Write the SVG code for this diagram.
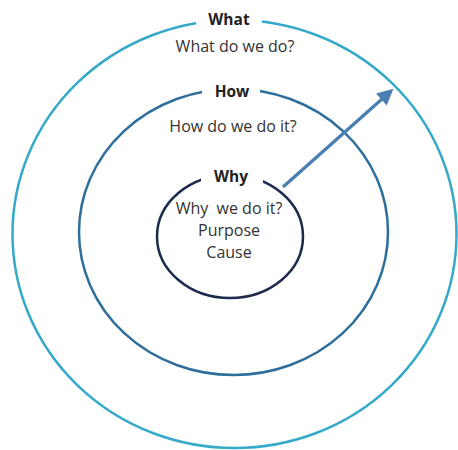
<svg xmlns="http://www.w3.org/2000/svg" width="458" height="450" viewBox="0 0 458 450">
<style>
.lbl{font-family:"Open Sans","Liberation Sans",sans-serif;font-weight:bold;font-size:15.5px;fill:#222;text-anchor:middle}
.txt{font-family:"Open Sans","Liberation Sans",sans-serif;font-size:16px;fill:#333;text-anchor:middle}
.gap{fill:#fff}
</style>
<defs>
<marker id="ah" viewBox="0 0 10 10" refX="8" refY="5" markerWidth="5.5" markerHeight="5" orient="auto" markerUnits="strokeWidth">
<path d="M0,0 L10,5 L0,10 z" fill="#4a7fb3"/>
</marker>
</defs>
<rect width="458" height="450" fill="#fff"/>
<g id="what">
<ellipse cx="234.5" cy="234" rx="222" ry="214" fill="none" stroke="#34a9c8" stroke-width="2.5"/>
<rect class="gap" x="196" y="10" width="66" height="22"/>
<text class="lbl" x="229" y="25">What</text>
<text class="txt" x="235" y="52">What do we do?</text>
</g>
<g id="how">
<ellipse cx="233.5" cy="232" rx="154.5" ry="143" fill="none" stroke="#2e6e9c" stroke-width="2.5"/>
<rect class="gap" x="202" y="80" width="58" height="22"/>
<text class="lbl" x="232" y="97">How</text>
<text class="txt" x="233" y="132">How do we do it?</text>
</g>
<g id="why">
<ellipse cx="230" cy="236.5" rx="73" ry="61.5" fill="none" stroke="#1c2a4e" stroke-width="2.5"/>
<rect class="gap" x="201" y="165" width="62" height="22"/>
<text class="lbl" x="231" y="182">Why</text>
<text class="txt" x="229" y="214" xml:space="preserve">Why  we do it?</text>
<text class="txt" x="229" y="236">Purpose</text>
<text class="txt" x="229" y="258">Cause</text>
</g>
<g id="connectors">
<line x1="283" y1="187" x2="391" y2="91" stroke="#4a7fb3" stroke-width="3.2" marker-end="url(#ah)"/>
</g>
</svg>
